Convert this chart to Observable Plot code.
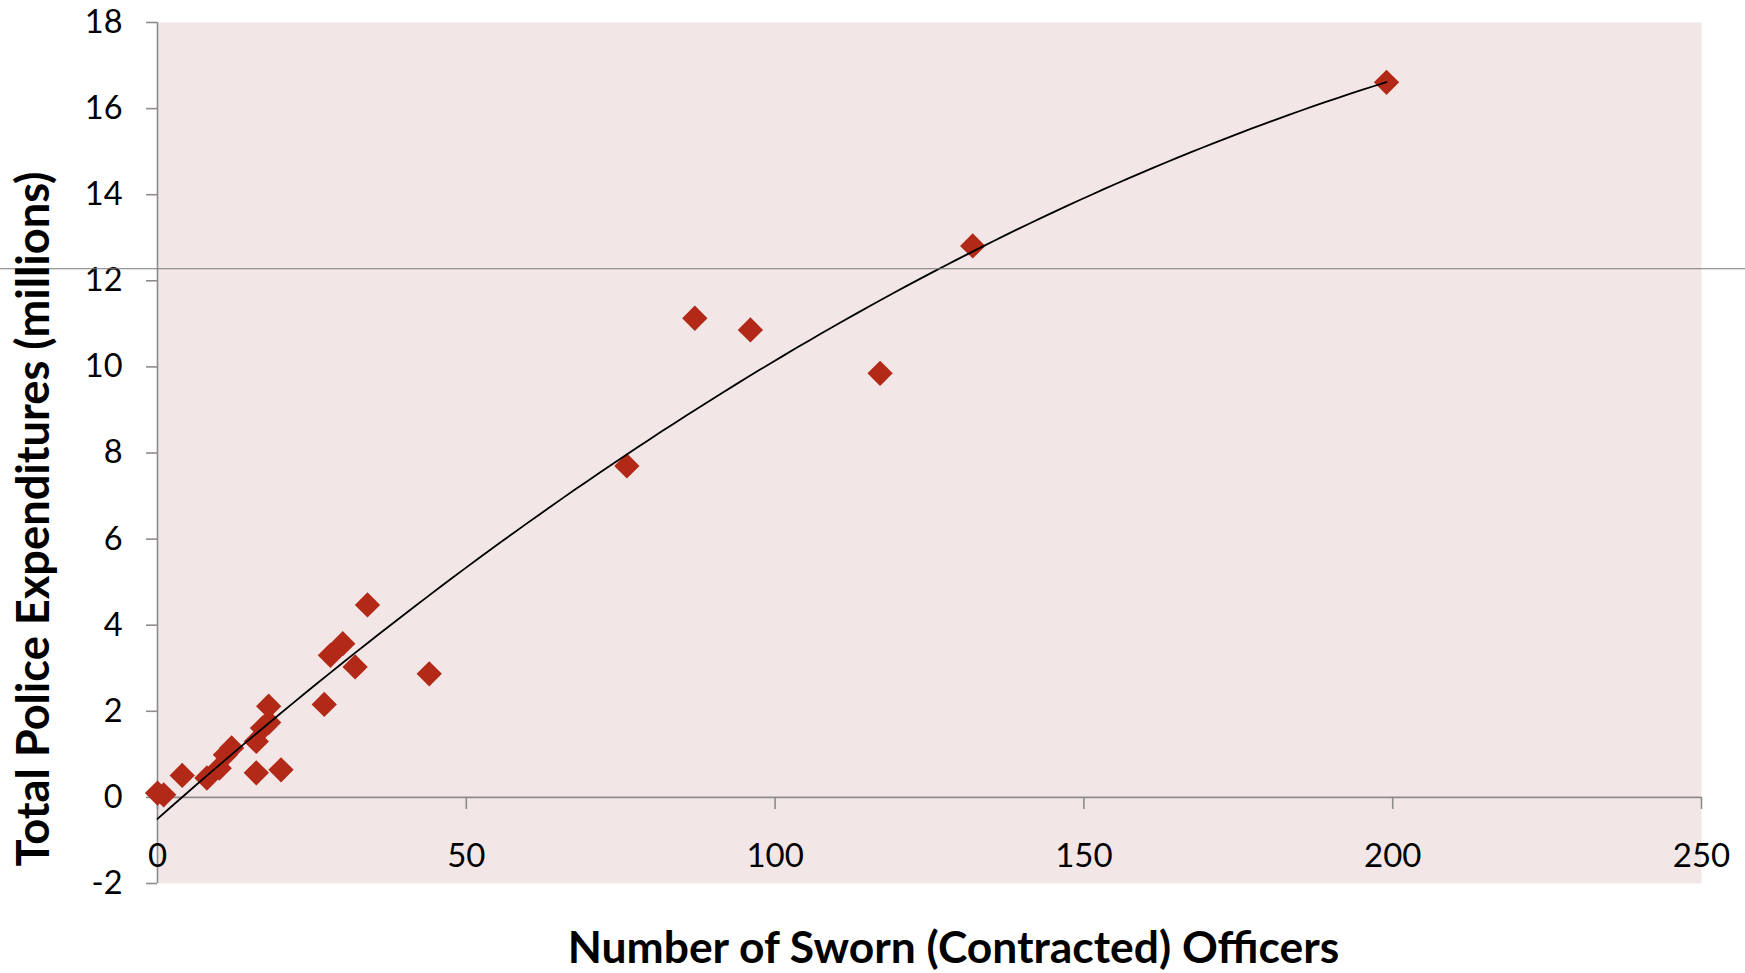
<!DOCTYPE html>
<html>
<head>
<meta charset="utf-8">
<script src="https://cdn.jsdelivr.net/npm/d3@7"></script>
<script src="https://cdn.jsdelivr.net/npm/@observablehq/plot@0.6"></script>
<style>
  html, body { margin: 0; padding: 0; background: #fff; }
  #chart svg { display: block; }
</style>
</head>
<body>
<div id="chart"></div>
<script>
// ---- Data ----
const officers     = [0, 1, 4, 8, 10, 11, 12, 16, 16, 17, 18, 18, 20, 27, 28, 30, 32, 34, 44, 76, 87, 96, 117, 132, 199];
const expenditures = [0.10, 0.06, 0.51, 0.45, 0.68, 0.99, 1.15, 0.57, 1.30, 1.61, 1.74, 2.12, 0.64, 2.16, 3.30, 3.57, 3.03, 4.47, 2.87, 7.70, 11.13, 10.86, 9.85, 12.81, 16.61];
const xTicks = [0, 50, 100, 150, 200, 250];
const yTicks = [-2, 0, 2, 4, 6, 8, 10, 12, 14, 16, 18];
const refLineY = [12.28];
const xTitle = "Number of Sworn (Contracted) Officers";
const yTitle = "Total Police Expenditures (millions)";

// ---- Order-2 polynomial trendline, least squares fit of the data ----
function quadFit(xs, ys) {
  const S = k => d3.sum(xs, x => x ** k);
  const T = k => d3.sum(xs, (x, i) => x ** k * ys[i]);
  const M = [[S(0), S(1), S(2)], [S(1), S(2), S(3)], [S(2), S(3), S(4)]];
  const v = [T(0), T(1), T(2)];
  const det = m => m[0][0]*(m[1][1]*m[2][2]-m[1][2]*m[2][1]) - m[0][1]*(m[1][0]*m[2][2]-m[1][2]*m[2][0]) + m[0][2]*(m[1][0]*m[2][1]-m[1][1]*m[2][0]);
  const D = det(M);
  return [0, 1, 2].map(j => det(M.map((row, i) => row.map((c, k) => k === j ? v[i] : c))) / D);
}
const [qa, qb, qc] = quadFit(officers, expenditures);
const xMax = d3.max(officers);
const trend = d3.range(0, 101).map(i => {
  const x = xMax * i / 100;
  return {x, y: qa + qb * x + qc * x * x};
});

const points = officers.map((x, i) => ({x, y: expenditures[i]}));

// ---- Layout ----
const W = 1745, H = 973;
const mL = 157, mR = 44, mT = 22, mB = 90;
const xDomain = [0, 250], yDomain = [-2, 18];
// shift of the x axis from the frame bottom up to y = 0
const innerH = H - mT - mB;
const axisShift = -innerH * (0 - yDomain[0]) / (yDomain[1] - yDomain[0]);
// x extent of the stray reference line (whole picture width)
const pxPerX = (W - mL - mR) / (xDomain[1] - xDomain[0]);
const refX1 = -mL / pxPerX - 1, refX2 = xDomain[1] + mR / pxPerX + 1;

const axisGray = "#8c8c8c";

const chart = Plot.plot({
  width: W,
  height: H,
  marginLeft: mL,
  marginRight: mR,
  marginTop: mT,
  marginBottom: mB,
  x: {domain: xDomain},
  y: {domain: yDomain},
  style: {fontFamily: "Lato, 'Open Sans', sans-serif", color: "#000", background: "#fff", overflow: "visible"},
  marks: [
    Plot.frame({fill: "#f2e6e6", stroke: null}),
    Plot.ruleX([0], {stroke: axisGray, strokeWidth: 1.6}),
    Plot.ruleY([0], {stroke: axisGray, strokeWidth: 1.6}),
    Plot.axisY({
      ticks: yTicks, tickSize: 11, tickPadding: 24, tickFormat: d => String(d),
      fontSize: 32.5, stroke: axisGray, strokeWidth: 1.6, fill: "#000", label: null
    }),
    Plot.axisX({
      anchor: "bottom", ticks: xTicks, tickSize: 12, tickPadding: 34, tickFormat: d => String(d),
      dy: axisShift, fontSize: 33, stroke: axisGray, strokeWidth: 1.6, fill: "#000", label: null
    }),
    Plot.dot(points, {x: "x", y: "y", symbol: "diamond2", r: 11.4, fill: "#b22a17", stroke: null}),
    Plot.line(trend, {x: "x", y: "y", stroke: "#000", strokeWidth: 1.8, curve: "linear"}),
    Plot.ruleY(refLineY, {x1: refX1, x2: refX2, stroke: "#7a7a7a", strokeWidth: 1}),
    Plot.text([yTitle], {frameAnchor: "left", textAnchor: "middle", lineAnchor: "middle", rotate: -90, dx: -123, dy: 66, fontSize: 45.2, fontWeight: "bold", fill: "#000"}),
    Plot.text([xTitle], {frameAnchor: "bottom", textAnchor: "middle", lineAnchor: "middle", dx: 24, dy: 65, fontSize: 44.4, fontWeight: "bold", fill: "#000"})
  ]
});

document.getElementById("chart").appendChild(chart);
</script>
</body>
</html>
